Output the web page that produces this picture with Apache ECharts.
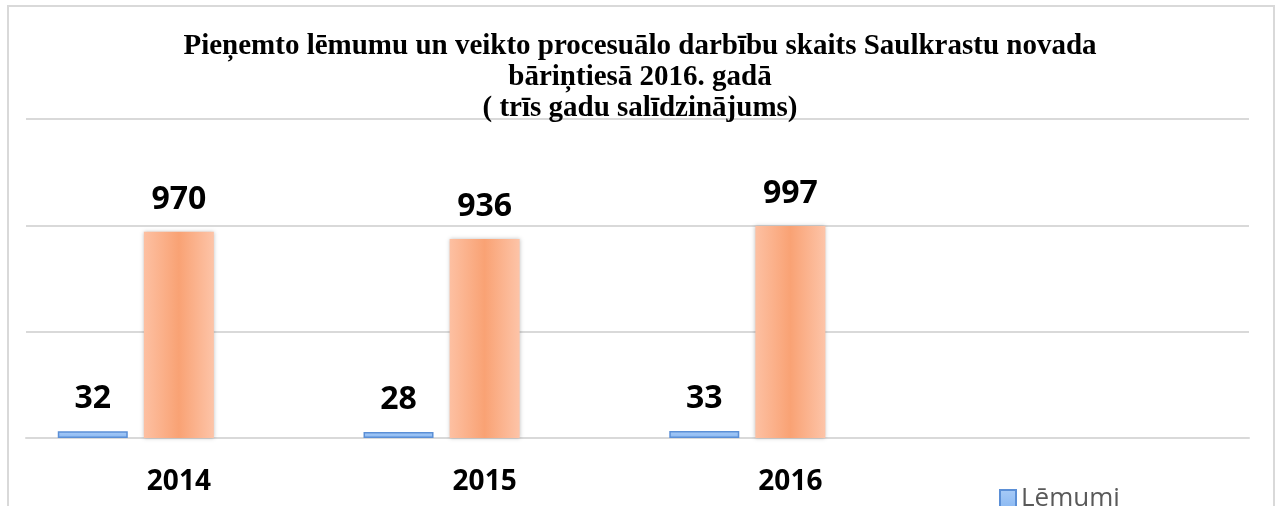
<!DOCTYPE html>
<html>
<head>
<meta charset="utf-8">
<script src="https://cdn.jsdelivr.net/npm/echarts@6/dist/echarts.min.js"></script>
<style>
  html, body { margin: 0; padding: 0; background: #fff; }
  #chart { width: 1280px; height: 506px; }
</style>
</head>
<body>
<div id="chart"></div>
<script>
const years = ["2014", "2015", "2016", ""];
const lemumi = [32, 28, 33, null];
const darbibas = [970, 936, 997, null];
const empty = [null, null, null, null];
const titleText = "Pieņemto lēmumu un veikto procesuālo darbību skaits Saulkrastu novada\nbāriņtiesā 2016. gadā\n( trīs gadu salīdzinājums)";

const chart = echarts.init(document.getElementById("chart"));

const labelStyle = {
  show: true,
  position: "top",
  distance: 16,
  fontFamily: "Open Sans",
  fontWeight: "bold",
  fontSize: 32,
  color: "#000",
};

const option = {
  animation: false,
  title: {
    text: titleText,
    left: "center",
    top: 31,
    padding: [0, 0, 0, 24],
    textStyle: {
      fontFamily: "Liberation Serif",
      fontWeight: "bold",
      fontSize: 29,
      lineHeight: 31,
      color: "#000",
    },
  },
  graphic: [
    {
      type: "rect",
      shape: { x: 8, y: 6, width: 1266, height: 540 },
      style: { fill: "none", stroke: "#d9d9d9", lineWidth: 2 },
      silent: true,
    },
  ],
  legend: {
    orient: "vertical",
    left: 994,
    top: 481,
    itemWidth: 16,
    itemHeight: 18,
    icon: "rect",
    data: ["Lēmumi"],
    textStyle: { fontFamily: "Open Sans", fontSize: 26, color: "#595959" },
  },
  grid: { left: 26, right: 31, top: 119, bottom: 68 },
  xAxis: {
    type: "category",
    data: years,
    axisLine: { lineStyle: { color: "#d9d9d9", width: 2 } },
    axisTick: { show: false },
    axisLabel: {
      margin: 30,
      fontFamily: "Open Sans",
      fontWeight: "bold",
      fontSize: 28,
      color: "#000",
    },
  },
  yAxis: {
    type: "value",
    min: 0,
    max: 1500,
    interval: 500,
    axisLabel: { show: false },
    axisLine: { show: false },
    axisTick: { show: false },
    splitLine: { lineStyle: { color: "#d9d9d9", width: 2 } },
  },
  series: [
    {
      name: "Lēmumi",
      type: "bar",
      data: lemumi,
      barWidth: 70,
      barGap: "23%",
      itemStyle: {
        color: new echarts.graphic.LinearGradient(0, 0, 0, 1, [
          { offset: 0, color: "#a8cbf7" },
          { offset: 1, color: "#8ab8f2" },
        ]),
        borderColor: "#5b8fd6",
        borderWidth: 1.5,
      },
      label: labelStyle,
    },
    {
      name: "Procesuālās darbības",
      type: "bar",
      data: darbibas,
      barWidth: 70,
      itemStyle: {
        color: new echarts.graphic.LinearGradient(0, 0, 1, 0, [
          { offset: 0, color: "#fdc0a2" },
          { offset: 0.5, color: "#f9a274" },
          { offset: 1, color: "#fdc4a8" },
        ]),
        shadowBlur: 4,
        shadowColor: "rgba(0,0,0,0.25)",
      },
      label: labelStyle,
    },
    {
      name: "",
      type: "bar",
      data: empty,
      barWidth: 70,
    },
  ],
};

chart.setOption(option);
</script>
</body>
</html>
